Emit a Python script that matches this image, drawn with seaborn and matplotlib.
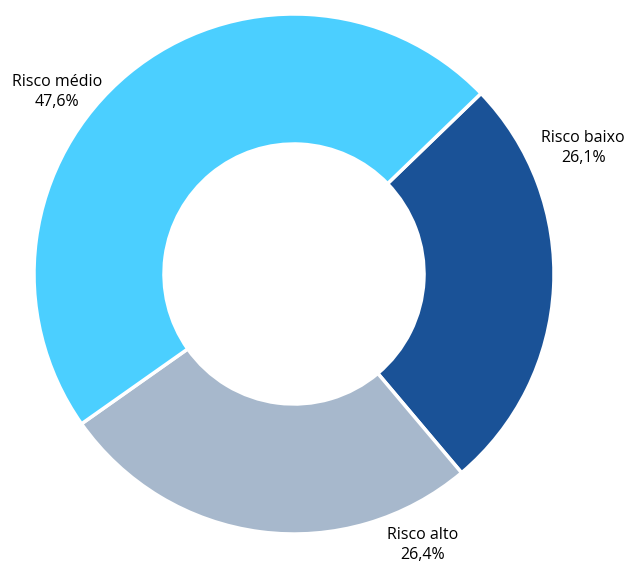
import matplotlib.pyplot as plt
import seaborn as sns

categorias = ["Risco baixo", "Risco alto", "Risco médio"]
percentuais = [26.1, 26.4, 47.6]
rotulos = ["26,1%", "26,4%", "47,6%"]
cores = ["#1A5297", "#A7B8CC", "#4BCFFF"]

sns.set_theme(style="white")
plt.rcParams['font.family'] = ['Open Sans', 'DejaVu Sans']

fig = plt.figure(figsize=(6.27, 5.65), dpi=100)
ax = fig.add_axes([0, 0, 1, 1])

ax.pie(percentuais, colors=cores, startangle=44, counterclock=False,
       radius=1, wedgeprops=dict(width=0.5, edgecolor="white", linewidth=2.5))

# posicoes dos rotulos (coord. de dados)
pos_rotulos = [(1.112, 0.485), (0.496, -1.042), (-0.912, 0.700)]
for cat, rot, (x, y) in zip(categorias, rotulos, pos_rotulos):
    ax.text(x, y, f"{cat}\n{rot}", ha="center", va="center",
            fontsize=11.5, color="black", linespacing=1.4)

ax.set_xlim(-294 / 260, 333 / 260)
ax.set_ylim(-291 / 260, 274 / 260)
ax.set_aspect("equal")
ax.axis("off")

fig.savefig("out.png", dpi=100)
